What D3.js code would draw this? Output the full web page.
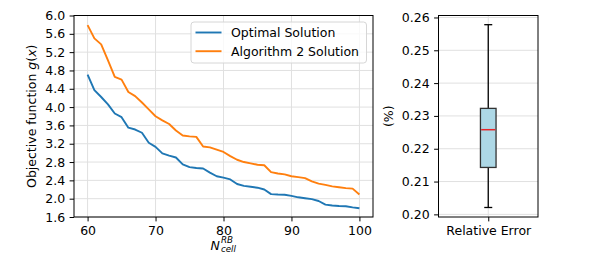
<!DOCTYPE html>
<html lang="en">
<head>
<meta charset="utf-8">
<title>Objective function and relative error</title>
<script src="https://cdn.jsdelivr.net/npm/d3@7"></script>
<style>
  body { margin: 0; background: #fff; }
  svg text { font-family: "DejaVu Sans", sans-serif; fill: #000; }
  .grid line { stroke: #e0e0e0; stroke-width: 1; }
  .axis path { display: none; }
  .axis line { stroke: #000; stroke-width: 1; }
  .axis text { font-size: 12.5px; }
</style>
</head>
<body>
<script>
// number of cells (x axis of the left panel)
var nCell = d3.range(60, 101);
var optimal = [4.71, 4.37, 4.22, 4.06, 3.86, 3.78, 3.55, 3.51, 3.44, 3.22,
               3.13, 2.99, 2.94, 2.90, 2.75, 2.69, 2.67, 2.66, 2.57, 2.49,
               2.46, 2.42, 2.32, 2.28, 2.26, 2.24, 2.20, 2.10, 2.09, 2.085,
               2.06, 2.03, 2.01, 1.99, 1.95, 1.87, 1.85, 1.84, 1.835, 1.81, 1.79];
var algo2 = [5.79, 5.50, 5.37, 5.02, 4.66, 4.60, 4.33, 4.24, 4.10, 3.95,
             3.80, 3.71, 3.63, 3.49, 3.38, 3.36, 3.35, 3.14, 3.12, 3.07,
             3.02, 2.93, 2.85, 2.80, 2.77, 2.74, 2.73, 2.58, 2.55, 2.53,
             2.49, 2.47, 2.45, 2.38, 2.33, 2.30, 2.27, 2.25, 2.23, 2.22, 2.09];
var seriesNames = ["Optimal Solution", "Algorithm 2 Solution"];
var seriesColors = ["#1f77b4", "#ff7f0e"];
var xTicks = [60, 70, 80, 90, 100];
var yTicks = [1.6, 2.0, 2.4, 2.8, 3.2, 3.6, 4.0, 4.4, 4.8, 5.2, 5.6, 6.0];

// relative error box plot: [lower whisker, q1, median, q3, upper whisker]
var boxCategory = ["Relative Error"];
var boxStats = [0.2021, 0.2143, 0.2258, 0.2323, 0.2578];
var boxTicks = [0.20, 0.21, 0.22, 0.23, 0.24, 0.25, 0.26];

var W = 598, H = 260;
var fs = 12.5, tick = 4.4;
var svg = d3.select("body").append("svg")
    .attr("width", W).attr("height", H);

// ---------- left panel ----------
var L = {left: 74, right: 373, top: 15.5, bottom: 217};
var x = d3.scaleLinear().domain([58, 102]).range([L.left, L.right]);
var y = d3.scaleLinear().domain([1.6, 6.0]).range([L.bottom, L.top]);

var g1 = svg.append("g");
var grid1 = g1.append("g").attr("class", "grid");
grid1.selectAll("line.v").data(xTicks).enter().append("line")
  .attr("class", "v")
  .attr("x1", d => x(d)).attr("x2", d => x(d))
  .attr("y1", L.top).attr("y2", L.bottom);
grid1.selectAll("line.h").data(yTicks).enter().append("line")
  .attr("class", "h")
  .attr("x1", L.left).attr("x2", L.right)
  .attr("y1", d => y(d)).attr("y2", d => y(d));

g1.append("g").attr("class", "axis")
  .attr("transform", "translate(0," + L.bottom + ")")
  .call(d3.axisBottom(x).tickValues(xTicks).tickSize(tick).tickPadding(tick));
g1.append("g").attr("class", "axis")
  .attr("transform", "translate(" + L.left + ",0)")
  .call(d3.axisLeft(y).tickValues(yTicks).tickSize(tick).tickPadding(tick)
        .tickFormat(d3.format(".1f")));

var line = d3.line().x((d, i) => x(nCell[i])).y(d => y(d));
[optimal, algo2].forEach(function(s, k) {
  g1.append("path").datum(s)
    .attr("fill", "none")
    .attr("stroke", seriesColors[k])
    .attr("stroke-width", 1.9)
    .attr("stroke-linejoin", "round")
    .attr("d", line);
});

g1.append("rect")
  .attr("x", L.left).attr("y", L.top)
  .attr("width", L.right - L.left).attr("height", L.bottom - L.top)
  .attr("fill", "none").attr("stroke", "#000").attr("stroke-width", 1);

// legend
var lg = g1.append("g").attr("transform", "translate(191,22)");
lg.append("rect").attr("width", 175.5).attr("height", 41).attr("rx", 3)
  .attr("fill", "#fff").attr("fill-opacity", 0.8)
  .attr("stroke", "#d6d6d6").attr("stroke-width", 1);
seriesNames.forEach(function(name, k) {
  var yy = 10.5 + k * 18.7;
  lg.append("line").attr("x1", 4.5).attr("x2", 30.5)
    .attr("y1", yy).attr("y2", yy)
    .attr("stroke", seriesColors[k]).attr("stroke-width", 1.9);
  lg.append("text").attr("x", 40).attr("y", yy + 4.5)
    .style("font-size", fs + "px").text(name);
});

// axis labels
svg.append("text")
  .attr("transform", "translate(36," + (L.top + L.bottom) / 2 + ") rotate(-90)")
  .attr("text-anchor", "middle").style("font-size", fs + "px")
  .call(function(t) {
    t.append("tspan").text("Objective function ");
    t.append("tspan").style("font-style", "italic").text("g");
    t.append("tspan").text("(");
    t.append("tspan").style("font-style", "italic").text("x");
    t.append("tspan").text(")");
  });
var xl = svg.append("g").attr("transform", "translate(210.5,249.5)");
xl.append("text").style("font-size", fs + "px").style("font-style", "italic").text("N");
xl.append("text").attr("x", 10.5).attr("y", -7).style("font-size", "8.7px")
  .style("font-style", "italic").text("RB");
xl.append("text").attr("x", 10.5).attr("y", 2.5).style("font-size", "8.7px")
  .style("font-style", "italic").text("cell");

// ---------- right panel ----------
var R = {left: 438.5, right: 538, top: 15.5, bottom: 217};
var bx = d3.scalePoint().domain(boxCategory).range([R.left, R.right]).padding(0.5);
var by = d3.scaleLinear().domain([0.1992, 0.2606]).range([R.bottom, R.top]);

var g2 = svg.append("g");
var grid2 = g2.append("g").attr("class", "grid");
grid2.selectAll("line.h").data(boxTicks).enter().append("line")
  .attr("class", "h")
  .attr("x1", R.left).attr("x2", R.right)
  .attr("y1", d => by(d)).attr("y2", d => by(d));
grid2.selectAll("line.v").data(boxCategory).enter().append("line")
  .attr("class", "v")
  .attr("x1", d => bx(d)).attr("x2", d => bx(d))
  .attr("y1", R.top).attr("y2", R.bottom);

g2.append("g").attr("class", "axis")
  .attr("transform", "translate(0," + R.bottom + ")")
  .call(d3.axisBottom(bx).tickSize(tick).tickPadding(tick));
g2.append("g").attr("class", "axis")
  .attr("transform", "translate(" + R.left + ",0)")
  .call(d3.axisLeft(by).tickValues(boxTicks).tickSize(tick).tickPadding(tick)
        .tickFormat(d3.format(".2f")));

var cx = bx(boxCategory[0]);
var boxW = 15.6, capW = 8;
var bxg = g2.append("g");
// whiskers
bxg.append("line").attr("x1", cx).attr("x2", cx)
  .attr("y1", by(boxStats[0])).attr("y2", by(boxStats[1]))
  .attr("stroke", "#000").attr("stroke-width", 1.3);
bxg.append("line").attr("x1", cx).attr("x2", cx)
  .attr("y1", by(boxStats[3])).attr("y2", by(boxStats[4]))
  .attr("stroke", "#000").attr("stroke-width", 1.3);
[boxStats[0], boxStats[4]].forEach(function(v) {
  bxg.append("line").attr("x1", cx - capW / 2).attr("x2", cx + capW / 2)
    .attr("y1", by(v)).attr("y2", by(v))
    .attr("stroke", "#000").attr("stroke-width", 1.3);
});
bxg.append("rect")
  .attr("x", cx - boxW / 2).attr("y", by(boxStats[3]))
  .attr("width", boxW).attr("height", by(boxStats[1]) - by(boxStats[3]))
  .attr("fill", "#add8e6").attr("stroke", "#333").attr("stroke-width", 1.3);
bxg.append("line").attr("x1", cx - boxW / 2 + 0.7).attr("x2", cx + boxW / 2 - 0.7)
  .attr("y1", by(boxStats[2])).attr("y2", by(boxStats[2]))
  .attr("stroke", "#e8262a").attr("stroke-width", 1.5);

g2.append("rect")
  .attr("x", R.left).attr("y", R.top)
  .attr("width", R.right - R.left).attr("height", R.bottom - R.top)
  .attr("fill", "none").attr("stroke", "#000").attr("stroke-width", 1);

svg.append("text")
  .attr("transform", "translate(393," + (R.top + R.bottom) / 2 + ") rotate(-90)")
  .attr("text-anchor", "middle").style("font-size", fs + "px").text("(%)");
</script>
</body>
</html>
